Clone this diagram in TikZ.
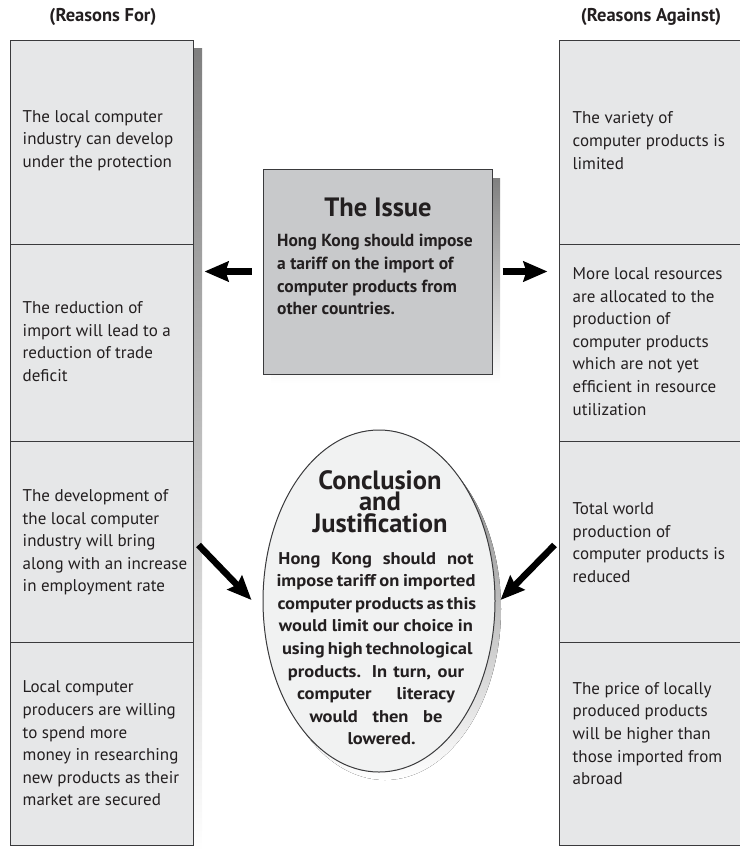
\documentclass[tikz,border=0pt]{standalone}
\usepackage{graphicx}
\usepackage{fontspec}
\setmainfont{PT Sans}
\usetikzlibrary{arrows.meta,shapes.geometric}
\definecolor{cellfill}{HTML}{E6E7E8}
\definecolor{issuefill}{HTML}{C8C9CB}
\definecolor{ellfill}{HTML}{F1F2F2}
\definecolor{shade}{HTML}{939598}
\definecolor{edge}{HTML}{3A3A3C}
\definecolor{ink}{HTML}{231F20}
\newcommand{\jl}[2]{\resizebox{#1}{\height}{\makebox[\dimexpr #1*92/100\relax][s]{#2}}}
\begin{document}
\begin{tikzpicture}[x=1pt,y=-1pt,
  cellbox/.style={draw=edge,line width=1pt,fill=cellfill,rectangle,minimum width=183pt,inner sep=0pt},
  celltext/.style={anchor=west,inner sep=0pt,align=left,font=\fontsize{17}{22.6}\selectfont,text=ink},
  headlbl/.style={font=\bfseries\fontsize{18.5}{21}\selectfont,text=ink},
  titlelbl/.style={font=\bfseries\fontsize{26.5}{26.5}\selectfont,text=ink,inner sep=0pt},
  bigarrow/.style={line width=6.5pt,-{Stealth[length=24pt,width=20pt,inset=3pt]}},
]
\useasboundingbox (0,0) rectangle (739,851);
% headers
\node[headlbl] (hfor) at (103,17) {(Reasons For)};
\node[headlbl] (hagainst) at (651,17) {(Reasons Against)};
% shadows of columns
\fill[shade] (19,49) rectangle (202,852);
\fill[shade] (568,49) rectangle (751,852);
% left column
\node[cellbox,minimum height=203pt] (f1) at (101.5,142.5) {};
\node[cellbox,minimum height=197pt] (f2) at (101.5,342.5) {};
\node[cellbox,minimum height=201pt] (f3) at (101.5,541.5) {};
\node[cellbox,minimum height=203pt] (f4) at (101.5,743.5) {};
\node[celltext] (f1t) at ([xshift=13pt,yshift=2pt]f1.west) {The local computer\\industry can develop\\under the protection};
\node[celltext] (f2t) at ([xshift=13pt,yshift=1pt]f2.west) {The reduction of\\import will lead to a\\reduction of trade\\deficit};
\node[celltext] (f3t) at ([xshift=13pt,yshift=-1pt]f3.west) {The development of\\the local computer\\industry will bring\\along with an increase\\in employment rate};
\node[celltext] (f4t) at ([xshift=13pt,yshift=0pt]f4.west) {Local computer\\producers are willing\\to spend more\\money in researching\\new products as their\\market are secured};
% right column
\node[cellbox,minimum height=203pt] (a1) at (650.5,142.5) {};
\node[cellbox,minimum height=197pt] (a2) at (650.5,342.5) {};
\node[cellbox,minimum height=201pt] (a3) at (650.5,541.5) {};
\node[cellbox,minimum height=203pt] (a4) at (650.5,743.5) {};
\node[celltext] (a1t) at ([xshift=14pt,yshift=2pt]a1.west) {The variety of\\computer products is\\limited};
\node[celltext] (a2t) at ([xshift=14pt,yshift=1pt]a2.west) {More local resources\\are allocated to the\\production of\\computer products\\which are not yet\\efficient in resource\\utilization};
\node[celltext] (a3t) at ([xshift=14pt,yshift=-1pt]a3.west) {Total world\\production of\\computer products is\\reduced};
\node[celltext] (a4t) at ([xshift=14pt,yshift=10pt]a4.west) {The price of locally\\produced products\\will be higher than\\those imported from\\abroad};
% issue box
\fill[shade] (271,178) rectangle (500,383);
\node[draw=edge,line width=1pt,fill=issuefill,rectangle,minimum width=229pt,minimum height=205pt,inner sep=0pt] (issue) at (377.5,271.5) {};
\node[titlelbl] (issuetitle) at (378,207) {The Issue};
\node[anchor=north west,inner sep=0pt,align=left,text=ink,font=\bfseries\fontsize{17.5}{22.7}\selectfont] (issuetext) at (277,234) {Hong Kong should impose\\a tariff on the import of\\computer products from\\other countries.};
% conclusion ellipse
\fill[shade] (385,609) ellipse [x radius=116, y radius=171];
\node[draw=edge,line width=1pt,fill=ellfill,ellipse,minimum width=232pt,minimum height=342pt,inner sep=0pt] (concl) at (379,601) {};
\node[titlelbl] (ct1) at (380,480) {Conclusion};
\node[titlelbl] (ct2) at (380,501.5) {and};
\node[titlelbl] (ct3) at (380,523) {Justification};
\node[anchor=north,inner sep=0pt,align=center,text=ink,font=\bfseries\fontsize{17}{22.6}\selectfont] (concltext) at (376,552)
 {\jl{195pt}{Hong Kong should not}\\\jl{199pt}{impose tariff on imported}\\\jl{197pt}{computer products as this}\\\jl{194pt}{would limit our choice in}\\\jl{188pt}{using high technological}\\\jl{176pt}{products. In turn, our}\\\jl{158pt}{computer literacy}\\\jl{133pt}{would then be}\\\jl{57pt}{lowered.}};
% arrows
\draw[bigarrow,shorten <=11pt,shorten >=11pt] (issue.west) -- (issue.west -| f2.east);
\draw[bigarrow,shorten <=10pt,shorten >=11pt] (issue.east) -- (issue.east -| a2.west);
\draw[bigarrow] ([shift={(5pt,-3.5pt)}]f3.east) -- ([shift={(-11pt,1pt)}]concl.west);
\draw[bigarrow] ([shift={(-4pt,-3.5pt)}]a3.west) -- ([shift={(5pt,1pt)}]concl.east);
\end{tikzpicture}
\end{document}
